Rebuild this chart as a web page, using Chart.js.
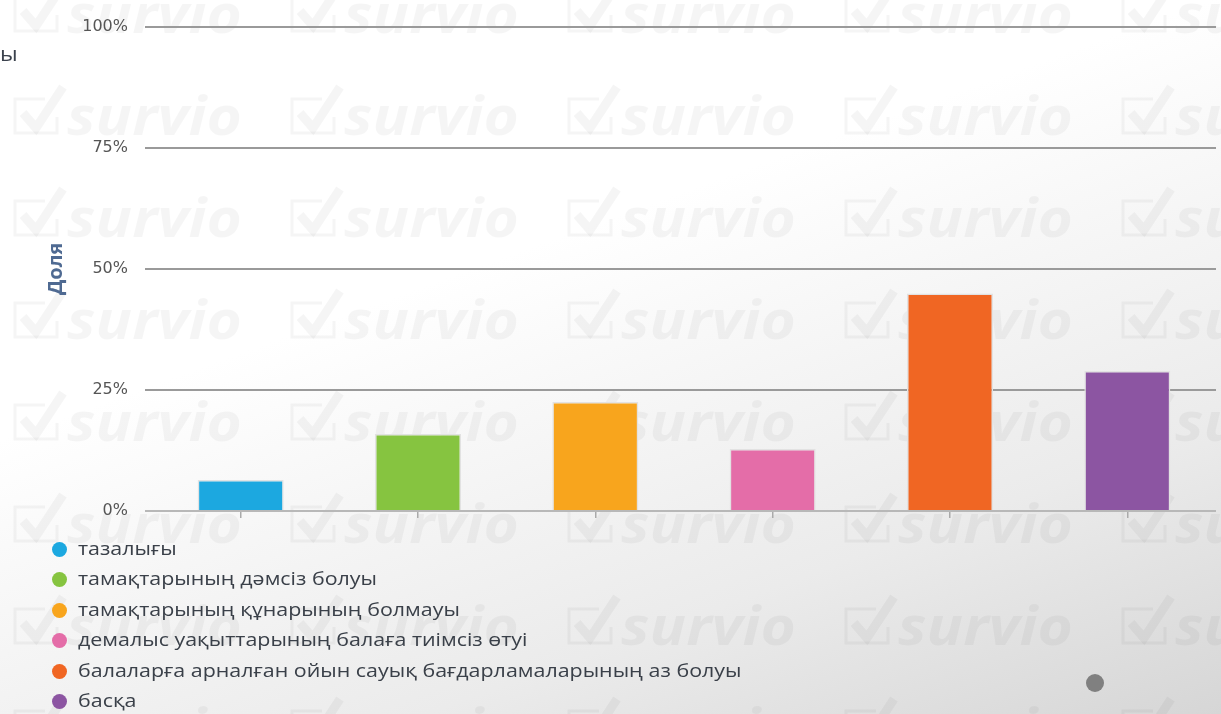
<!DOCTYPE html>
<html>
<head>
<meta charset="utf-8">
<script src="https://cdn.jsdelivr.net/npm/chart.js@4.4.0/dist/chart.umd.min.js"></script>
<style>
  html, body { margin: 0; padding: 0; }
  body {
    width: 1221px; height: 714px; overflow: hidden; position: relative;
    background: linear-gradient(160deg, #ffffff 0%, #ffffff 38%, #ebebeb 75%, #d6d6d6 100%);
    font-family: "Open Sans", sans-serif;
  }
  #chart { position: absolute; left: 0; top: 0; }
  #cut { position: absolute; left: 0px; top: 40px; font-size: 20px; color: #3b424d; transform: scaleX(1.15); transform-origin: left; }
  #legend { position: absolute; left: 52px; top: 533px; margin: 0; padding: 0; list-style: none; }
  #legend li { height: 30.4px; line-height: 30.4px; font-size: 18px; color: #3a4049; white-space: nowrap; }
  #legend .dot { display: inline-block; width: 15px; height: 15px; border-radius: 50%; margin-right: 11px; vertical-align: -2px; }
  #legend .txt { display: inline-block; transform: scaleX(1.19); transform-origin: left; }
  #dot { position: absolute; left: 1086px; top: 674px; width: 18px; height: 18px; border-radius: 50%; background: #808080; }
</style>
</head>
<body>
<canvas id="chart" width="1221" height="714"></canvas>
<div id="cut">ы</div>
<ul id="legend"></ul>
<div id="dot"></div>
<script>
const categories = [
  "тазалығы",
  "тамақтарының дәмсіз болуы",
  "тамақтарының құнарының болмауы",
  "демалыс уақыттарының балаға тиімсіз өтуі",
  "балаларға арналған ойын сауық бағдарламаларының аз болуы",
  "басқа"
];
const shares = [6.4, 15.9, 22.5, 12.8, 44.9, 28.9];
const barColors = ["#1ca8e0", "#86c440", "#f8a51d", "#e46da8", "#f06623", "#8c55a2"];
const yTicks = [0, 25, 50, 75, 100];

// ===== WATERMARK =====
const watermark = {
  id: "watermark",
  beforeDraw(chart) {
    const c = chart.ctx;
    c.save();
    c.fillStyle = "rgba(0,0,0,0.04)";
    c.strokeStyle = "rgba(0,0,0,0.04)";
    c.font = 'italic bold 54px "Open Sans"';
    c.textBaseline = "alphabetic";
    for (let row = 0; row < 8; row++) {
      const by = 33 + row * 102;
      for (let col = 0; col < 5; col++) {
        const x = 67 + col * 277;
        c.save();
        c.translate(x, by);
        c.scale(1.12, 1);
        c.fillText("survio", 0, 0);
        c.restore();
        // box
        c.lineWidth = 3;
        c.beginPath();
        c.moveTo(x - 22, by - 36);
        c.lineTo(x - 52, by - 36);
        c.lineTo(x - 52, by - 2);
        c.lineTo(x - 10, by - 2);
        c.lineTo(x - 10, by - 18);
        c.stroke();
        // check
        c.lineWidth = 9;
        c.beginPath();
        c.moveTo(x - 44, by - 22);
        c.lineTo(x - 31, by - 7);
        c.lineTo(x - 4, by - 48);
        c.stroke();
      }
    }
    c.restore();
  }
};

// ===== CHART =====
new Chart(document.getElementById("chart"), {
  type: "bar",
  data: {
    labels: categories,
    datasets: [{
      data: shares,
      backgroundColor: barColors,
      borderColor: "#e2e2e2",
      borderWidth: 1.5,
      categoryPercentage: 1,
      barPercentage: 0.485
    }]
  },
  options: {
    responsive: false,
    animation: false,
    layout: { padding: { top: 26, right: 5, bottom: 195, left: 0 } },
    plugins: { legend: { display: false }, tooltip: { enabled: false } },
    scales: {
      x: {
        grid: { offset: false, drawOnChartArea: false, drawTicks: true, tickLength: 7, color: "#aaa", lineWidth: 1.5 },
        border: { display: false },
        ticks: { display: false },
        afterFit: s => { s.height = 8; }
      },
      y: {
        min: 0,
        max: 100,
        afterBuildTicks: s => { s.ticks = yTicks.map(v => ({ value: v })); },
        ticks: {
          callback: v => v + "%",
          padding: 17,
          color: "#555",
          font: { family: "DejaVu Sans", size: 16 }
        },
        grid: {
          color: c => (c.tick && c.tick.value === 0 ? "#b8b8b8" : "#9a9a9a"),
          lineWidth: 2,
          tickLength: 7
        },
        border: { display: false },
        title: {
          display: true,
          text: "Доля",
          color: "#4f6a92",
          font: { family: "Open Sans", weight: "bold", size: 20 },
          padding: { top: 44, bottom: 0 }
        },
        afterFit: s => { s.width = 152; }
      }
    }
  },
  plugins: [watermark]
});

// ===== LEGEND =====
document.getElementById("legend").innerHTML = categories.map((name, i) =>
  `<li><span class="dot" style="background:${barColors[i]}"></span><span class="txt">${name}</span></li>`
).join("");
</script>
</body>
</html>
